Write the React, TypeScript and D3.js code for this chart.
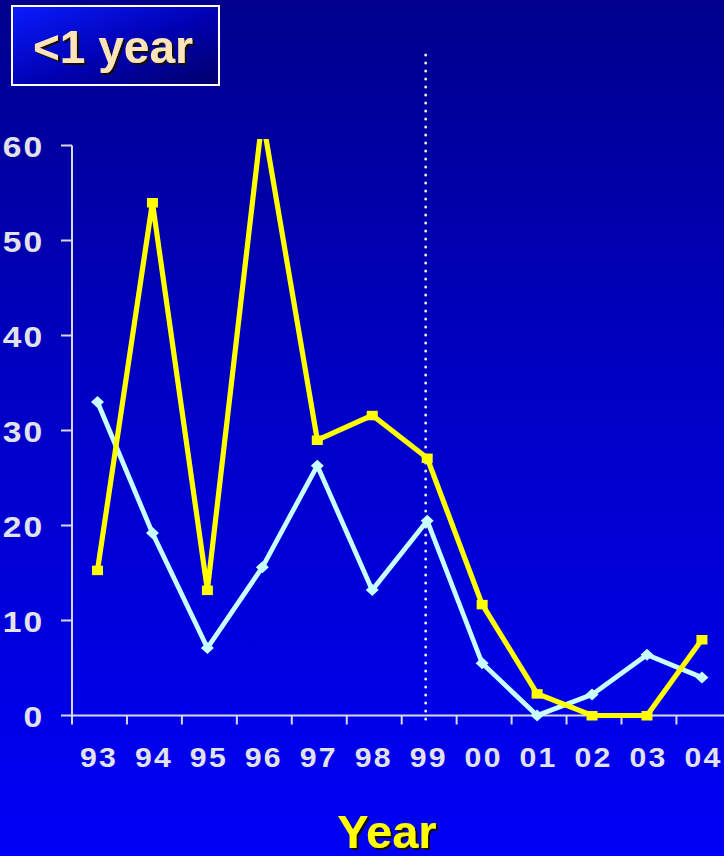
import React from "react";
import * as d3 from "d3";

const years = ["93", "94", "95", "96", "97", "98", "99", "00", "01", "02", "03", "04"];
const cyanValues = [33.0, 19.2, 7.1, 15.6, 26.3, 13.2, 20.5, 5.5, 0, 2.2, 6.4, 4.0];
const yellowValues = [15.3, 54.0, 13.2, 63.0, 29.0, 31.6, 27.1, 11.7, 2.3, 0, 0, 8.0];
const yTicks = [0, 10, 20, 30, 40, 50, 60];
const markerYear = "99";

const W = 724;
const H = 856;
const FONT = "'Liberation Sans', Arial, Helvetica, sans-serif";
const AXIS = "#d8d8e6";
const LABEL = "#e2e2ea";

export default function App() {
  const x = d3.scaleBand<string>().domain(years).range([72, 72 + 12 * 54.95]).paddingInner(0).paddingOuter(0);
  const px = (d: string) => (x(d) as number) + 25.5;
  const y = d3.scaleLinear().domain([0, 60]).range([715.5, 145.5]);

  const line = d3
    .line<number>()
    .x((_, i) => px(years[i]))
    .y((v) => y(v));

  const diamond = (cx: number, cy: number) =>
    `M${cx},${cy - 6}L${cx + 6.5},${cy}L${cx},${cy + 6}L${cx - 6.5},${cy}Z`;

  const xTickPositions = years.map((d) => x(d) as number);

  return (
    <svg
      width={W}
      height={H}
      style={{ position: "absolute", left: 0, top: 0, display: "block" }}
    >
      <defs>
        <linearGradient id="bg" x1="0" y1="0" x2="0" y2="1">
          <stop offset="0" stopColor="#00008c" />
          <stop offset="0.45" stopColor="#0000c4" />
          <stop offset="1" stopColor="#0000f6" />
        </linearGradient>
        <linearGradient id="titleBg" x1="0" y1="0" x2="1" y2="1">
          <stop offset="0" stopColor="#0a1cff" />
          <stop offset="0.55" stopColor="#0000b0" />
          <stop offset="1" stopColor="#00006a" />
        </linearGradient>
        <filter id="shadow" x="-10%" y="-10%" width="130%" height="140%">
          <feDropShadow dx={2} dy={2} stdDeviation={0} floodColor="#140800" floodOpacity={1} />
        </filter>
        <clipPath id="plotClip">
          <rect x={0} y={139} width={W} height={H - 139} />
        </clipPath>
      </defs>

      <rect x={0} y={0} width={W} height={H} fill="url(#bg)" />

      {/* Title box */}
      <rect x={12} y={6} width={207} height={79} fill="url(#titleBg)" stroke="#ffffff" strokeWidth={2} />
      <text x={33} y={63} fontFamily={FONT} fontWeight="bold" fontSize={46} fill="#fde3b8" filter="url(#shadow)">
        &lt;1 year
      </text>

      {/* Y axis */}
      <line x1={72} y1={y(60)} x2={72} y2={y(0)} stroke={AXIS} strokeWidth={2} />
      {yTicks.map((t) => (
        <g key={t}>
          <line x1={61} y1={y(t)} x2={72} y2={y(t)} stroke={AXIS} strokeWidth={2} />
          <text
            transform={`translate(44.5,${y(t) + 11}) scale(1.12,1)`}
            textAnchor="end"
            fontFamily={FONT}
            fontWeight="bold"
            fontSize={30}
            letterSpacing={2}
            fill={LABEL}
          >
            {t}
          </text>
        </g>
      ))}

      {/* X axis */}
      <line x1={72} y1={y(0)} x2={W} y2={y(0)} stroke={AXIS} strokeWidth={2} />
      {xTickPositions.map((tx, i) => (
        <line key={i} x1={tx} y1={y(0)} x2={tx} y2={y(0) + 9} stroke={AXIS} strokeWidth={2} />
      ))}
      {years.map((d) => (
        <text
          key={d}
          transform={`translate(${px(d) + 1.5},766.5) scale(1.12,1)`}
          textAnchor="middle"
          fontFamily={FONT}
          fontWeight="bold"
          fontSize={27}
          letterSpacing={2}
          fill={LABEL}
        >
          {d}
        </text>
      ))}

      {/* Dotted reference line */}
      <line
        x1={px(markerYear) - 1.5}
        y1={55}
        x2={px(markerYear) - 1.5}
        y2={720}
        stroke="#e8e8f4"
        strokeWidth={3}
        strokeLinecap="round"
        strokeDasharray="0 8"
      />

      <g clipPath="url(#plotClip)">
        {/* Cyan series */}
        <path d={line(cyanValues) ?? ""} fill="none" stroke="#c8ffff" strokeWidth={4.8} strokeLinejoin="miter" />
        {cyanValues.map((v, i) => (
          <path key={i} d={diamond(px(years[i]), y(v))} fill="#c8ffff" />
        ))}

        {/* Yellow series */}
        <path d={line(yellowValues) ?? ""} fill="none" stroke="#ffff00" strokeWidth={5.2} strokeLinejoin="miter" />
        {yellowValues.map((v, i) => (
          <rect key={i} x={px(years[i]) - 5.5} y={y(v) - 4.5} width={11} height={9.5} fill="#ffff00" />
        ))}
      </g>

      {/* X axis title */}
      <text x={387} y={848} textAnchor="middle" fontFamily={FONT} fontWeight="bold" fontSize={47} fill="#ffff00" filter="url(#shadow)">
        Year
      </text>
    </svg>
  );
}
